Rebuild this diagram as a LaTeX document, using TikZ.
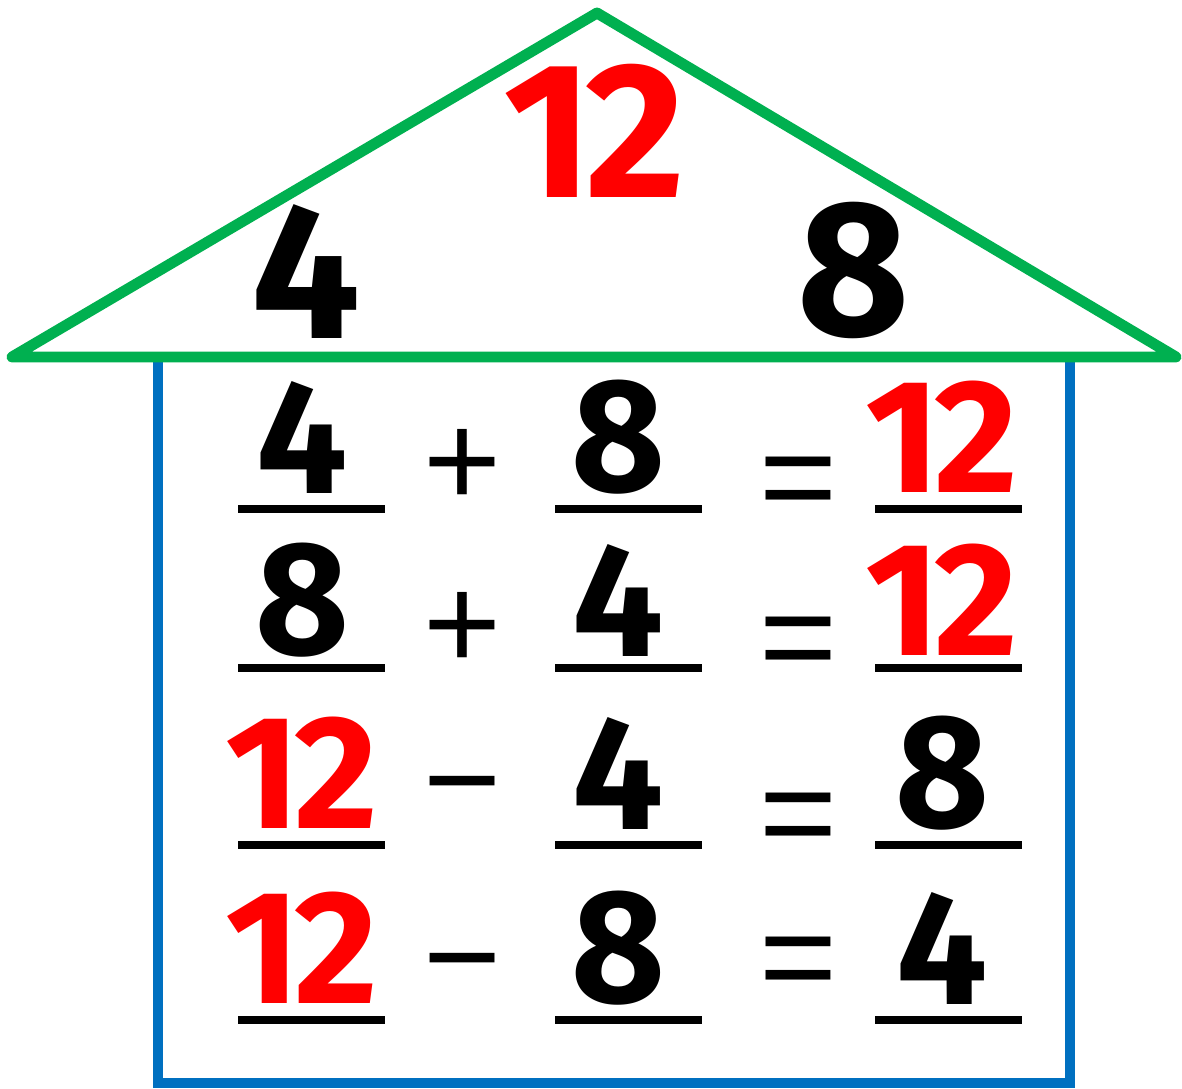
\documentclass[tikz,border=0pt]{standalone}
\usepackage{fontspec}
\newfontfamily\handfont{Fira Sans}
\newfontfamily\opfont{Liberation Sans}
\definecolor{roofgreen}{HTML}{00B050}
\definecolor{wallblue}{HTML}{0070C0}
\definecolor{numred}{HTML}{FF0000}
\newcommand\numtwelve{1\kern-.04em 2}

\begin{document}
\begin{tikzpicture}[x=0.02cm,y=-0.02cm,
  num/.style={font=\handfont\bfseries\fontsize{92}{92}\selectfont,inner sep=0pt},
  bignum/.style={font=\handfont\bfseries\fontsize{110}{110}\selectfont,inner sep=0pt},
  op/.style={font=\opfont\fontsize{76}{76}\selectfont,inner sep=0pt},
  blank/.style={line width=4.5pt,black},
  wall/.style={draw=wallblue,line width=6.2pt},
  roof/.style={draw=roofgreen,line width=6.2pt,line join=round,line cap=round}]

\useasboundingbox (0,0) rectangle (1182,1088);

% ===== house: wall, then roof on top =====
\draw[wall] (158,357) -- (158,1083) -- (1070,1083) -- (1070,357);
\draw[roof] (12,357) -- (597,13) -- (1176,357) -- cycle;

% ===== numbers in the roof =====
\node[bignum,text=numred] (top) at (594,131) {\numtwelve};
\node[bignum] (left) at (306,272) {4};
\node[bignum] (right) at (854,270) {8};

% ===== the four number sentences =====
\foreach \r/\yy/\ly/\a/\ca/\o/\b/\cb/\c/\cc in
  {1/437/509/4/black/+/8/black/\numtwelve/numred,
   2/600/668/8/black/+/4/black/\numtwelve/numred,
   3/773/845/\numtwelve/numred/−/4/black/8/black,
   4/948/1020/\numtwelve/numred/−/8/black/4/black}{
  \node[num,text=\ca] (a\r) at (302,\yy) {\a};
  \node[num,text=\cb] (b\r) at (618,\yy) {\b};
  \node[num,text=\cc] (c\r) at (942,\yy) {\c};
  \pgfmathsetmacro{\oy}{\yy+(\r<3 ? 31 : (\r==3 ? 14 : 16))}
  \node[op] (o\r) at (462,\oy) {\vphantom{+}\o};
  \pgfmathsetmacro{\ey}{\yy+(\r==1 ? 47 : (\r==2 ? 44 : (\r==3 ? 47 : 16)))}
  \node[op] (e\r) at (798,\ey) {\vphantom{+}=};
  \draw[blank] (238,\ly) -- (385,\ly);
  \draw[blank] (555,\ly) -- (702,\ly);
  \draw[blank] (875,\ly) -- (1022,\ly);
}

\end{tikzpicture}
\end{document}
